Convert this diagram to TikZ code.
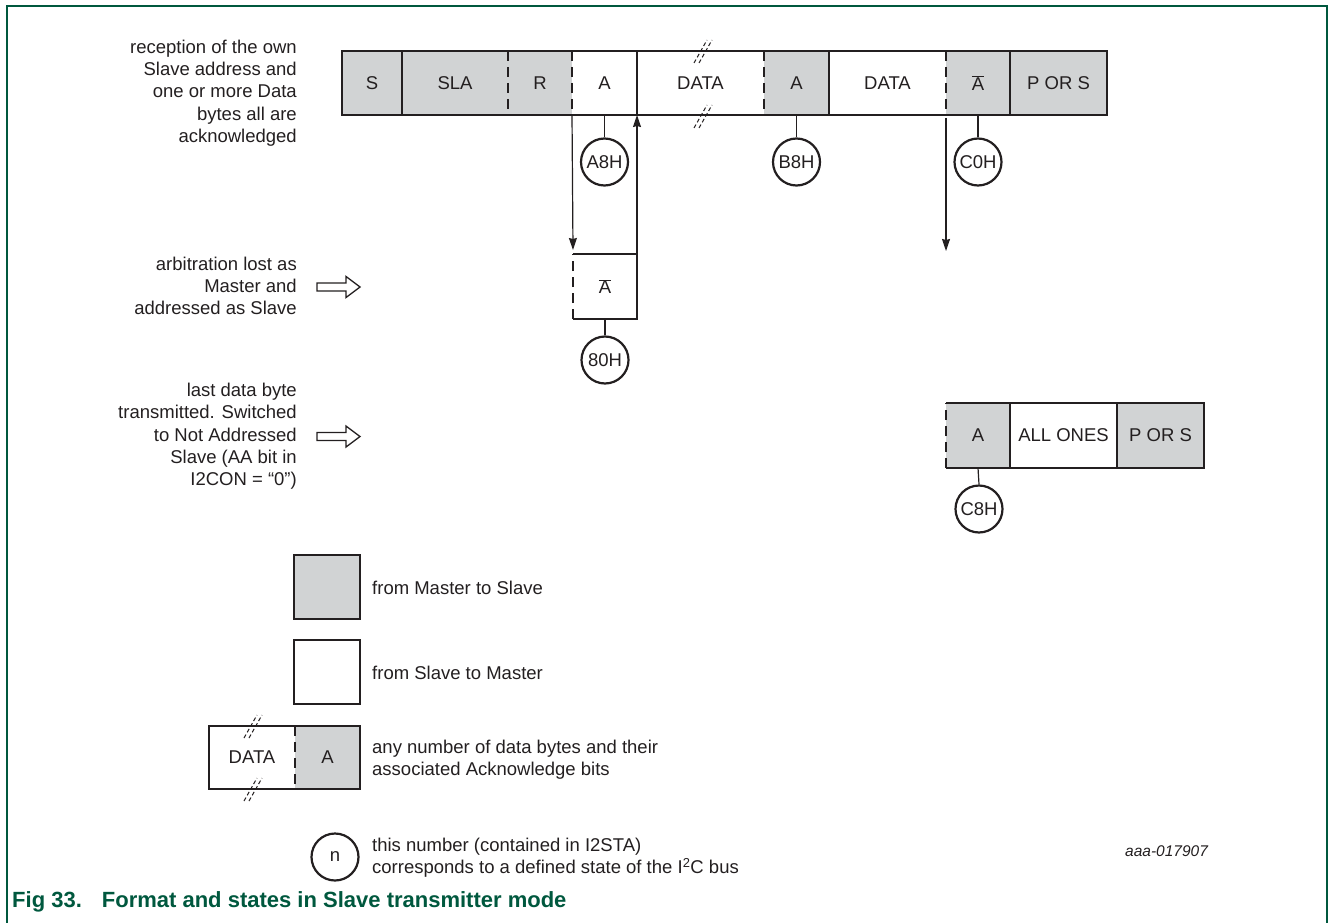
\documentclass[tikz,border=0pt]{standalone}
\usepackage{fontspec}
\setmainfont{Liberation Sans}
\usetikzlibrary{arrows.meta}
\definecolor{lg}{RGB}{209,211,212}
\definecolor{ink}{RGB}{35,31,32}
\definecolor{nxg}{RGB}{0,88,62}
\newcommand\dfont{\fontsize{18.5}{22.3}\selectfont}
\tikzset{
  cell/.style={inner sep=0pt, outer sep=0pt, minimum height=64pt, font=\dfont, text=ink},
  boxline/.style={draw=ink, line width=2.2pt},
  dsh/.style={dash pattern=on 10pt off 6pt},
  state/.style={circle, draw=ink, line width=2.2pt, minimum size=47pt, inner sep=0pt, font=\dfont, text=ink, fill=white},
  conn/.style={draw=ink, line width=1.2pt},
  arr/.style={conn, -{Stealth[length=12pt,width=8pt,inset=1pt]}},
  brk/.style={draw=ink, line width=1pt, dash pattern=on 4pt off 2.5pt},
  lbl/.style={font=\dfont, text=ink, align=right, anchor=east, inner sep=0pt},
  lgd/.style={font=\dfont, text=ink, align=left, anchor=west, inner sep=0pt},
  hollow/.style={draw=ink, line width=1.3pt, fill=white, line join=miter}
}
\begin{document}
\begin{tikzpicture}[x=1pt,y=-1pt]
\useasboundingbox (0,0) rectangle (1330,923);
% frame
\draw[nxg, line width=2pt] (6.5,930) -- (6.5,6.5) -- (1327,6.5) -- (1327,930);

% ---------- top row ----------
\node[cell, fill=lg, minimum width=60pt]  (s)     at (372,83)    {S};
\node[cell, fill=lg, minimum width=106pt] (sla)   at (455,83)    {SLA};
\node[cell, fill=lg, minimum width=64pt]  (r)     at (540,83)    {R};
\node[cell, fill=white, minimum width=65pt] (a1)  at (604.5,83)  {A};
\node[cell, fill=white, minimum width=127pt] (d1) at (700.5,83)  {DATA};
\node[cell, fill=lg, minimum width=65pt]  (a2)    at (796.5,83)  {A};
\node[cell, fill=white, minimum width=117pt] (d2) at (887.5,83)  {DATA};
\node[cell, fill=lg, minimum width=64pt]  (nab)   at (978,83)    {$\overline{\mbox{A}}$};
\node[cell, fill=lg, minimum width=97pt]  (pors)  at (1058.5,83) {P OR S};
\draw[boxline] (s.north west) rectangle (pors.south east);
\draw[boxline] (s.north east) -- (s.south east);
\draw[boxline,dsh] (sla.north east) -- (sla.south east);
\draw[boxline,dsh] (r.north east) -- (r.south east);
\draw[boxline] (a1.north east) -- (a1.south east);
\draw[boxline,dsh] (d1.north east) -- (d1.south east);
\draw[boxline] (a2.north east) -- (a2.south east);
\draw[boxline,dsh] (d2.north east) -- (d2.south east);
\draw[boxline] (nab.north east) -- (nab.south east);
% break marks on DATA
\draw[brk] (694,63) -- (707,40);
\draw[brk] (699,63) -- (712,40);
\draw[brk] (694,128) -- (707,105);
\draw[brk] (699,128) -- (712,105);

% states top
\node[state] (sA8) at (604.5,162) {A8H};
\node[state] (sB8) at (796.5,162) {B8H};
\node[state] (sC0) at (978,162)   {C0H};
\draw[conn] (a1.south) -- (sA8.north);
\draw[conn] (a2.south) -- (sB8.north);
\draw[conn] (nab.south) -- (sC0.north);

% ---------- middle box ----------
\node[cell, fill=white, minimum width=64pt, minimum height=65pt] (nabm) at (605,286.5) {$\overline{\mbox{A}}$};
\draw[boxline] (nabm.north west) -- (nabm.north east) -- (nabm.south east) -- (nabm.south west);
\draw[boxline,dsh] (nabm.south west) -- (nabm.north west);
\node[state] (s80) at (605,360) {80H};
\draw[conn] (nabm.south) -- (s80.north);
\draw[arr] (r.south east) -- ([yshift=4pt]nabm.north west);
\draw[arr] (nabm.north east) -- (d1.south west);
\coordinate (c0top) at (946,118);
\coordinate (c0end) at (946,251);
\draw[arr] (c0top) -- (c0end);

% ---------- bottom right row ----------
\node[cell, fill=lg, minimum width=64pt, minimum height=65pt]  (a3)   at (978,435.5)    {A};
\node[cell, fill=white, minimum width=107pt, minimum height=65pt] (ones) at (1063.5,435.5) {ALL ONES};
\node[cell, fill=lg, minimum width=87pt, minimum height=65pt]  (pors2) at (1160.5,435.5) {P OR S};
\draw[boxline] (a3.north west) -- (pors2.north east) -- (pors2.south east) -- (a3.south west);
\draw[boxline,dsh] (a3.south west) -- (a3.north west);
\draw[boxline] (a3.north east) -- (a3.south east);
\draw[boxline] (ones.north east) -- (ones.south east);
\node[state] (sC8) at (979,509) {C8H};
\draw[conn] (a3.south) -- (sC8.north);

% ---------- left labels ----------
\node[lbl] (t1) at (297,93) {reception of the own\\Slave address and\\one or more Data\\bytes all are\\acknowledged};
\node[lbl] (t2) at (297,286) {arbitration lost as\\Master and\\addressed as Slave};
\node[lbl] (t3) at (297,436.5) {last data byte\\transmitted. Switched\\to Not Addressed\\Slave (AA bit in\\I2CON = “0”)};
\draw[hollow] (317,283) -- (346,283) -- (346,276.5) -- (360,287) -- (346,297.5) -- (346,291) -- (317,291) -- cycle;
\draw[hollow] (317,432.5) -- (346,432.5) -- (346,426) -- (360,436.5) -- (346,447) -- (346,440.5) -- (317,440.5) -- cycle;

% ---------- legend ----------
\node[cell, fill=lg, minimum width=66pt] (lg1) at (327,587) {};
\draw[boxline] (lg1.north west) rectangle (lg1.south east);
\node[lgd] (lt1) at (372,588) {from Master to Slave};
\node[cell, fill=white, minimum width=66pt] (lg2) at (327,672) {};
\draw[boxline] (lg2.north west) rectangle (lg2.south east);
\node[lgd] (lt2) at (372,673) {from Slave to Master};
\node[cell, fill=white, minimum width=86pt, minimum height=63pt] (lgd3) at (252,757.5) {DATA};
\node[cell, fill=lg, minimum width=65pt, minimum height=63pt] (lga3) at (327.5,757.5) {A};
\draw[boxline] (lgd3.north west) rectangle (lga3.south east);
\draw[boxline,dsh] (lgd3.north east) -- (lgd3.south east);
\draw[brk] (244,738) -- (257,715);
\draw[brk] (249,738) -- (262,715);
\draw[brk] (244,801) -- (257,778);
\draw[brk] (249,801) -- (262,778);
\node[lgd] (lt3) at (372,760) {any number of data bytes and their\\associated Acknowledge bits};
\node[state] (sn) at (335,857) {n};
\node[lgd] (lt4) at (372,858) {this number (contained in I2STA)\\corresponds to a defined state of the I\textsuperscript{2}C bus};

% id
\node[font=\fontsize{15.5}{18}\selectfont\itshape, text=ink, anchor=west, inner sep=0pt] (id) at (1125,851) {aaa-017907};

% caption
\node[font=\fontsize{22}{26}\selectfont\bfseries, text=nxg, anchor=base west, inner sep=0pt] (cap) at (12,907) {Fig 33.\hspace{20pt}Format and states in Slave transmitter mode};
\end{tikzpicture}
\end{document}
